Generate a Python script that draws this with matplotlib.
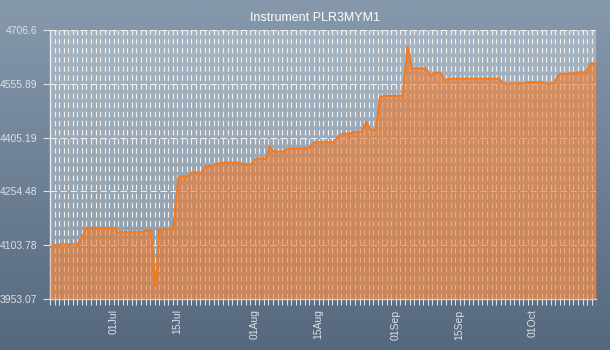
import numpy as np
import pandas as pd
import matplotlib
matplotlib.use('Agg')
import matplotlib.pyplot as plt
import matplotlib.dates as mdates
from matplotlib.colors import LinearSegmentedColormap

plt.rcParams['font.family'] = ['Liberation Sans', 'DejaVu Sans']

title = 'Instrument PLR3MYM1'

dates = ['06-17 00', '06-18 18', '06-23 00', '06-24 06', '06-24 22', '07-01 08',
         '07-01 22', '07-07 02', '07-08 02', '07-09 05', '07-10 05', '07-11 00',
         '07-14 02', '07-15 05', '07-15 22', '07-17 10', '07-18 02', '07-20 07',
         '07-21 05', '07-22 12', '07-23 14', '07-25 12', '07-28 10', '07-29 12',
         '07-31 07', '08-01 07', '08-03 12', '08-04 07', '08-05 05', '08-07 07',
         '08-08 10', '08-12 12', '08-13 02', '08-14 05', '08-18 07', '08-19 10',
         '08-20 07', '08-21 22', '08-22 12', '08-24 12', '08-25 12', '08-26 12',
         '08-27 14', '08-28 12', '08-29 10', '09-02 12', '09-03 00', '09-03 14',
         '09-04 12', '09-07 14', '09-08 17', '09-09 10', '09-10 17', '09-11 17',
         '09-12 19', '09-23 17', '09-24 14', '09-29 10', '09-29 19', '10-03 02',
         '10-03 14', '10-05 19', '10-06 17', '10-08 14', '10-10 14', '10-10 22',
         '10-12 19', '10-13 19', '10-14 23']

prices = [4099, 4106, 4106, 4132, 4152, 4152,
          4140, 4141, 4144, 4147, 3989, 4147,
          4149, 4294, 4297, 4297, 4307, 4307,
          4325, 4325, 4332, 4335, 4335, 4330,
          4330, 4346, 4346, 4380, 4366, 4366,
          4374, 4375, 4380, 4392, 4392, 4410,
          4416, 4416, 4421, 4421, 4450, 4426,
          4426, 4518, 4522, 4522, 4590, 4660,
          4599, 4599, 4576, 4587, 4587, 4566,
          4570, 4570, 4556, 4557, 4560, 4560,
          4557, 4557, 4582, 4584, 4586, 4588,
          4588, 4613, 4613]

yticks = [3953.07, 4103.78, 4254.48, 4405.19, 4555.89, 4706.6]

x_start, x_end = '2014-06-17 00:00', '2014-10-14 23:00'

fill_col = '#f37725'
line_col = '#f47a20'
grid_col = '#f0f0f0'
text_col = '#dde2e8'


def main():
    t = pd.to_datetime(['2014-' + d for d in dates], format='%Y-%m-%d %H')
    p = np.array(prices, dtype=float)

    fig = plt.figure(figsize=(6.1, 3.5), dpi=100)

    # background gradient for the whole figure
    bg = fig.add_axes([0, 0, 1, 1], zorder=-10)
    cm = LinearSegmentedColormap.from_list('bg', ['#55687d', '#8699ad'])
    grad = np.linspace(0, 1, 256).reshape(-1, 1)
    bg.imshow(grad, aspect='auto', cmap=cm, origin='lower', extent=[0, 1, 0, 1])
    bg.axis('off')

    ax = fig.add_axes([50/610, 51/350, 546/610, 269/350])
    ax.patch.set_facecolor('white')
    ax.patch.set_alpha(0.3)

    ax.fill_between(t, p, yticks[0], color=fill_col, alpha=0.58, lw=0, zorder=3)
    ax.plot(t, p, color=line_col, lw=1.5, zorder=4)

    ax.set_xlim(pd.Timestamp(x_start), pd.Timestamp(x_end))
    ax.set_ylim(yticks[0], yticks[-1])

    ax.set_yticks(yticks)
    ax.set_yticklabels(['%g' % v for v in yticks])

    ax.xaxis.set_major_locator(mdates.DayLocator(bymonthday=[1, 15]))
    ax.xaxis.set_major_formatter(mdates.DateFormatter('%d%b'))
    ax.xaxis.set_minor_locator(mdates.DayLocator())
    for lab in ax.get_xticklabels():
        lab.set_rotation(90)

    ax.grid(True, axis='x', which='both', color=grid_col, lw=0.8,
            linestyle=(0, (5, 3.2)), zorder=2)
    ax.grid(True, axis='y', which='major', color=grid_col, lw=0.8,
            linestyle=(0, (6, 3)), zorder=2)
    ax.set_axisbelow(True)

    ax.tick_params(axis='both', which='both', colors=text_col, labelsize=7.5,
                   direction='out', width=0.8)
    ax.tick_params(axis='x', which='both', length=4.5, labelsize=7.5, pad=3)
    ax.tick_params(axis='y', length=5, pad=4)

    for side in ['top', 'right']:
        ax.spines[side].set_visible(False)
    for side in ['left', 'bottom']:
        ax.spines[side].set_color('#e4e8ec')
        ax.spines[side].set_linewidth(1.0)

    fig.text(315/610, 1 - 18/350, title, color='white', fontsize=9,
             ha='center', va='center')

    fig.savefig('out.png', dpi=100)


if __name__ == '__main__':
    main()
